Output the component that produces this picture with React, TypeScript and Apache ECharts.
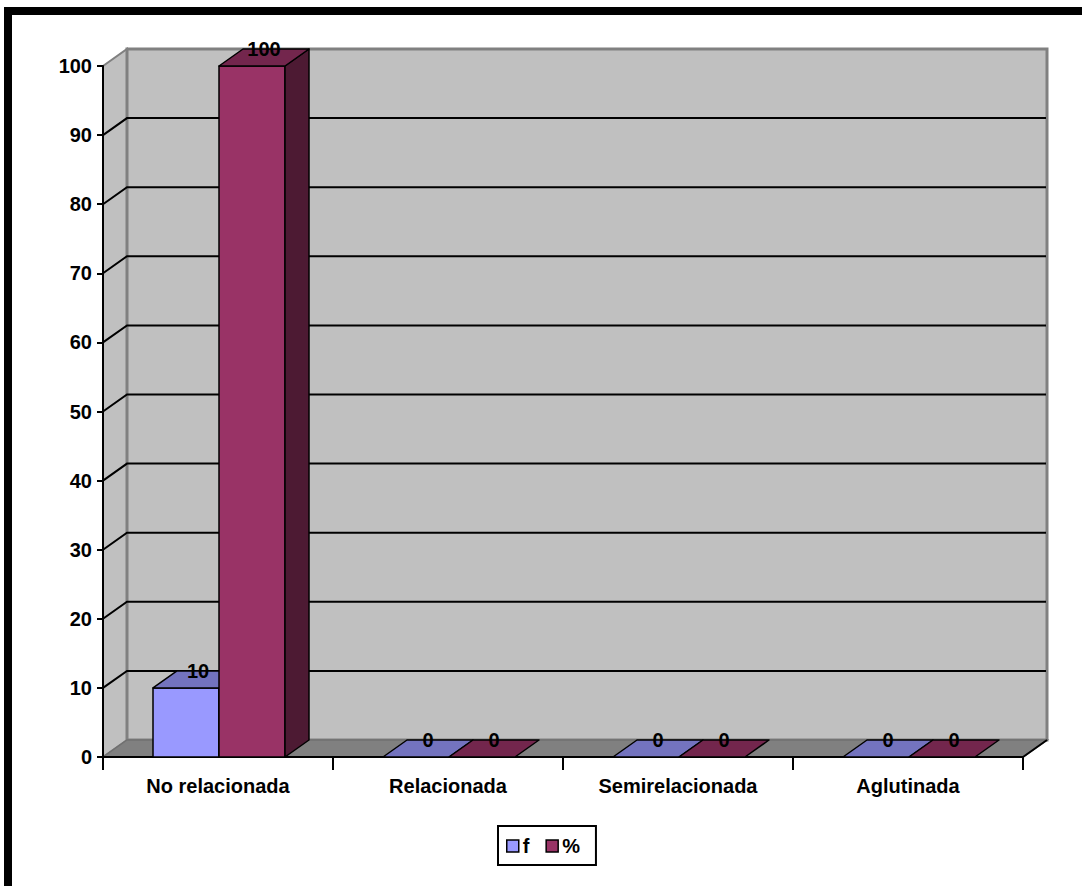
import React, { useEffect, useRef } from "react";
import * as echarts from "echarts";

// Categories and values
const categories = ["No relacionada", "Relacionada", "Semirelacionada", "Aglutinada"];
const fValues = [10, 0, 0, 0];
const pctValues = [100, 0, 0, 0];
// Horizontal gridlines drawn on the back wall
const gridValues = [10, 20, 30, 40, 50, 60, 70, 80, 90];

// 3D depth offset (pixels)
const DX = 24;
const DY = 17;
const BAR_FRAC = 66 / 230;
const FONT = "Liberation Sans";
const FS = 20;

const seriesColors = {
  f: { front: "#9999FF", top: "#7373BF", side: "#4D4D80" },
  pct: { front: "#993366", top: "#73264D", side: "#4D1A33" },
};

function renderWalls(params: any, api: any) {
  const cs = params.coordSys;
  const x0 = cs.x;
  const x1 = cs.x + cs.width;
  const yTop = cs.y;
  const yBase = cs.y + cs.height;
  const children: any[] = [];
  // left side wall
  children.push({
    type: "polygon",
    shape: { points: [[x0, yTop], [x0 + DX, yTop - DY], [x0 + DX, yBase - DY], [x0, yBase]] },
    style: { fill: "#C0C0C0", stroke: "#808080", lineWidth: 2 },
  });
  // back wall
  children.push({
    type: "rect",
    shape: { x: x0 + DX, y: yTop - DY, width: cs.width, height: cs.height },
    style: { fill: "#C0C0C0", stroke: "#808080", lineWidth: 3 },
  });
  // gridlines: diagonal on the side wall, then across the back wall
  gridValues.forEach((v) => {
    const y = api.coord([0, v])[1];
    children.push({
      type: "polyline",
      shape: { points: [[x0, y], [x0 + DX, y - DY], [x1 + DX - 1, y - DY]] },
      style: { stroke: "#000", lineWidth: 2, fill: "none" },
    });
  });
  // floor
  children.push({
    type: "polygon",
    shape: { points: [[x0, yBase], [x1, yBase], [x1 + DX, yBase - DY], [x0 + DX, yBase - DY]] },
    style: { fill: "#808080", stroke: "#707070", lineWidth: 1.5 },
  });
  children.push({
    type: "line",
    shape: { x1: x1, y1: yBase, x2: x1 + DX, y2: yBase - DY },
    style: { stroke: "#000", lineWidth: 2 },
  });
  return { type: "group", children };
}

function makeBarRender(pos: number, c: { front: string; top: string; side: string }) {
  return (params: any, api: any) => {
    const cat = api.value(0);
    const v = api.value(1);
    const base = api.coord([cat, 0]);
    const cx = base[0];
    const yBase = base[1];
    const yTop = api.coord([cat, v])[1];
    const band = api.size([1, 0])[0];
    const w = band * BAR_FRAC;
    const xa = pos === 0 ? cx - w + 1 : cx + 1;
    const xb = xa + w;
    const edge = { stroke: "#000", lineWidth: 1.5, lineJoin: "round" };
    const children: any[] = [];
    if (yBase - yTop > 0.5) {
      children.push({
        type: "rect",
        shape: { x: xa, y: yTop, width: w, height: yBase - yTop },
        style: { fill: c.front, ...edge },
      });
      children.push({
        type: "polygon",
        shape: { points: [[xb, yTop], [xb + DX, yTop - DY], [xb + DX, yBase - DY], [xb, yBase]] },
        style: { fill: c.side, ...edge },
      });
    }
    children.push({
      type: "polygon",
      shape: { points: [[xa, yTop], [xa + DX, yTop - DY], [xb + DX, yTop - DY], [xb, yTop]] },
      style: { fill: c.top, ...edge },
    });
    children.push({
      type: "text",
      style: {
        text: String(v),
        x: (xa + xb) / 2 + DX / 2,
        y: yTop - DY,
        align: "center",
        verticalAlign: "middle",
        font: `bold ${FS}px "${FONT}"`,
        fill: "#000",
      },
    });
    return { type: "group", children };
  };
}

export default function App() {
  const ref = useRef<HTMLDivElement>(null);

  useEffect(() => {
    if (!ref.current) return;
    const chart = echarts.init(ref.current, undefined, { renderer: "svg" });
    const textStyle = { color: "#000", fontWeight: "bold" as const, fontSize: FS, fontFamily: FONT };
    chart.setOption({
      animation: false,
      backgroundColor: "#fff",
      graphic: [
        {
          type: "rect",
          z: 100,
          shape: { x: 8, y: 11, width: 1200, height: 1000 },
          style: { fill: "none", stroke: "#000", lineWidth: 8 },
        },
      ],
      grid: { left: 103, top: 66, width: 920, height: 691, containLabel: false },
      xAxis: {
        type: "category",
        data: categories,
        axisLine: { lineStyle: { color: "#000", width: 2 } },
        axisTick: { show: true, length: 13, lineStyle: { color: "#000", width: 2 } },
        axisLabel: { ...textStyle, margin: 19 },
        splitLine: { show: false },
      },
      yAxis: {
        type: "value",
        min: 0,
        max: 100,
        interval: 10,
        axisLine: { show: true, lineStyle: { color: "#000", width: 2 } },
        axisTick: { show: true, length: 6, lineStyle: { color: "#000", width: 2 } },
        axisLabel: { ...textStyle, margin: 11 },
        splitLine: { show: false },
      },
      legend: {
        data: ["f", "%"],
        left: 498,
        top: 826,
        orient: "horizontal",
        icon: "rect",
        itemWidth: 12,
        itemHeight: 12,
        itemGap: 16,
        padding: [10, 16, 9, 8],
        borderColor: "#000",
        borderWidth: 2,
        itemStyle: { borderColor: "#000", borderWidth: 1.5 },
        textStyle: { ...textStyle, padding: [0, 0, 0, -1] },
      },
      series: [
        {
          type: "custom",
          name: "walls",
          z: -1,
          silent: true,
          renderItem: renderWalls,
          data: [[0, 0]],
        },
        {
          type: "custom",
          name: "f",
          z: 3,
          itemStyle: { color: seriesColors.f.front },
          renderItem: makeBarRender(0, seriesColors.f),
          data: fValues.map((v, i) => [i, v]),
        },
        {
          type: "custom",
          name: "%",
          z: 4,
          itemStyle: { color: seriesColors.pct.front },
          renderItem: makeBarRender(1, seriesColors.pct),
          data: pctValues.map((v, i) => [i, v]),
        },
      ],
    });
    return () => chart.dispose();
  }, []);

  return (
    <div
      ref={ref}
      style={{ position: "absolute", left: 0, top: 0, width: 1082, height: 886 }}
    />
  );
}
